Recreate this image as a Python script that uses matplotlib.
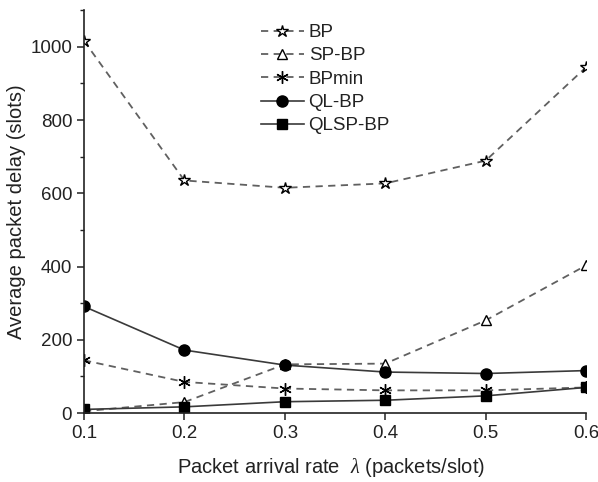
import matplotlib
matplotlib.use("Agg")
import matplotlib.pyplot as plt
from matplotlib.ticker import MultipleLocator

plt.rcParams['font.family'] = ['Liberation Sans', 'DejaVu Sans']
plt.rcParams['mathtext.fontset'] = 'custom'
plt.rcParams['mathtext.it'] = 'Liberation Serif:italic'

x = [0.1, 0.2, 0.3, 0.4, 0.5, 0.6]
bp = [1016, 635, 615, 627, 689, 944]
sp_bp = [5, 30, 133, 135, 253, 403]
bpmin = [144, 85, 67, 62, 62, 70]
ql_bp = [291, 172, 131, 112, 108, 116]
qlsp_bp = [10, 17, 31, 35, 47, 70]

fig = plt.figure(figsize=(5.98, 4.82), dpi=100)
ax = fig.add_axes([0.1405, 0.143, 0.8395, 0.836])

dash_col = '#606060'
solid_col = '#3a3a3a'
text_col = '#222222'
ax.plot(x, bp, linestyle=(0, (4, 3)), color=dash_col, lw=1.3, marker='*', ms=9,
        mfc='white', mec='black', mew=1.0, label='BP')
ax.plot(x, sp_bp, linestyle=(0, (4, 3)), color=dash_col, lw=1.3, marker='^', ms=7.5,
        mfc='white', mec='black', mew=1.0, label='SP-BP')
ax.plot(x, bpmin, linestyle=(0, (4, 3)), color=dash_col, lw=1.3, marker=(6, 2, 0), ms=9,
        mfc='black', mec='black', mew=1.0, label='BPmin')
ax.plot(x, ql_bp, linestyle='-', color=solid_col, lw=1.2, marker='o', ms=8,
        mfc='black', mec='black', label='QL-BP')
ax.plot(x, qlsp_bp, linestyle='-', color=solid_col, lw=1.2, marker='s', ms=6.5,
        mfc='black', mec='black', label='QLSP-BP')

ax.set_xlim(0.1, 0.6)
ax.set_ylim(0, 1100)
ax.set_xticks(x)
ax.set_xticklabels(['0.1', '0.2', '0.3', '0.4', '0.5', '0.6'])
ax.yaxis.set_major_locator(MultipleLocator(200))
ax.yaxis.set_minor_locator(MultipleLocator(100))
ax.spines['top'].set_visible(False)
ax.spines['right'].set_visible(False)
for s in ['left', 'bottom']:
    ax.spines[s].set_linewidth(1.2)
    ax.spines[s].set_color('#222222')
ax.tick_params(axis='both', which='major', labelsize=13.5, length=5, width=1.1,
               direction='out', labelcolor=text_col, color='#222222')
ax.tick_params(axis='y', which='minor', length=3, width=1.0, direction='out', color='#222222')

xl = ax.set_xlabel(r'Packet arrival rate  $\mathit{\lambda}$ (packets/slot)', fontsize=14.5,
                   labelpad=10, color=text_col)
ax.xaxis.label.set_x(0.492)
ax.set_ylabel('Average packet delay (slots)', fontsize=14.5, labelpad=3, color=text_col)

leg = ax.legend(loc='upper left', bbox_to_anchor=(0.326, 0.998), frameon=False, fontsize=13.5,
                handlelength=2.3, handletextpad=0.25, labelspacing=0.33, borderaxespad=0.3)
for t in leg.get_texts():
    t.set_color(text_col)

fig.savefig('out.png', dpi=100)
